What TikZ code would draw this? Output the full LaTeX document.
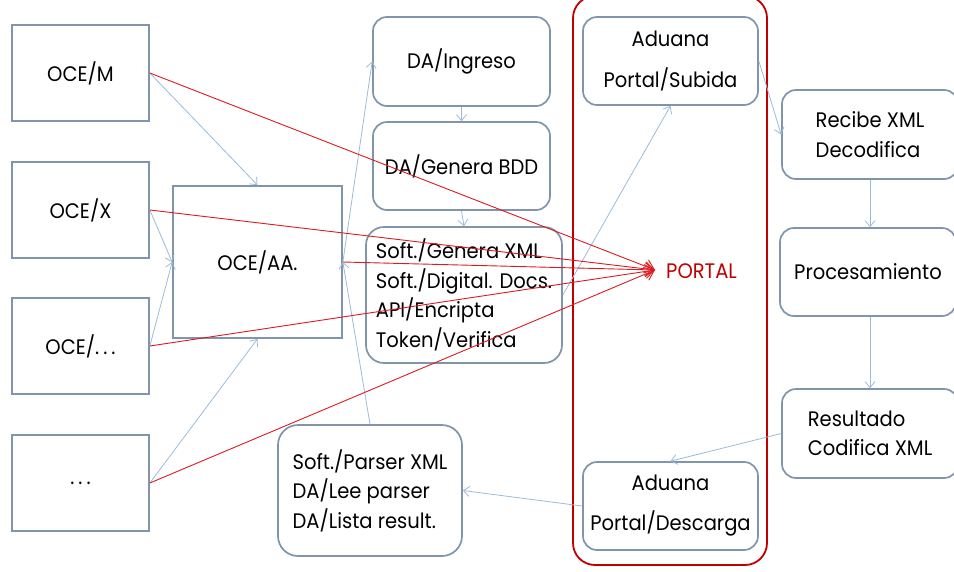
\documentclass[tikz,border=0pt]{standalone}
\usepackage{fontspec}
\setmainfont{Poppins}[FakeStretch=0.93]
\usetikzlibrary{arrows.meta}
\definecolor{boxc}{HTML}{8095AC}
\definecolor{linec}{HTML}{9DBBD8}
\definecolor{redl}{HTML}{DA1C22}
\definecolor{redc}{HTML}{C00000}
\newcommand\mydots{.\kern4pt.\kern4pt.}
\begin{document}
\begin{tikzpicture}[x=1pt,y=-1pt,
  every node/.style={font=\fontsize{21}{29.5}\selectfont, text=black, inner sep=0pt},
  sq/.style={draw=boxc, line width=1.7pt, fill=white},
  rb/.style={draw=boxc, line width=1.7pt, rounded corners=14pt, fill=white},
  barr/.style={draw=linec, line width=0.8pt, -{Straight Barb[length=6pt,width=10pt]}},
  rarr/.style={draw=redl, line width=0.9pt, -{Straight Barb[length=9pt,width=14pt]}}]
\useasboundingbox (0,0) rectangle (954,571);
% left square boxes
\node[sq, minimum width=137, minimum height=96] (ocem) at (80.5,73) {OCE/M};
\node[sq, minimum width=137, minimum height=96] (ocex) at (80.5,210) {OCE/X};
\node[sq, minimum width=137, minimum height=96] (oced) at (80.5,346) {OCE/\mydots};
\node[sq, minimum width=137, minimum height=96] (dots) at (80.5,483) {\mydots};
\node[sq, minimum width=169, minimum height=152] (aa) at (257.5,262) {OCE/AA.};
% middle column
\node[rb, minimum width=177, minimum height=89] (ing) at (461.5,61.5) {DA/Ingreso};
\node[rb, minimum width=177, minimum height=88] (bdd) at (461.5,166) {DA/Genera BDD};
\node[rb, minimum width=196, minimum height=136, rounded corners=18pt, align=left] (soft) at (464,295)
  {Soft./Genera XML\\Soft./Digital. Docs.\\API/Encripta\\Token/Verifica};
\node[rb, minimum width=184, minimum height=131, rounded corners=20pt, align=left] (parser) at (370,490.5)
  {Soft./Parser XML\\DA/Lee parser\\DA/Lista result.};
% portal container
\draw[redc, line width=1.8pt, rounded corners=22pt] (573,-4) rectangle (767,565);
\node[rb, minimum width=175, minimum height=88, align=center, font=\fontsize{21}{41}\selectfont] (sub) at (670.5,61)
  {Aduana\\Portal/Subida};
\node[rb, minimum width=175, minimum height=88, align=center, font=\fontsize{21}{40}\selectfont] (desc) at (670.5,506)
  {Aduana\\Portal/Descarga};
\coordinate (ptip) at (655,270);
\node[anchor=west, text=redc] (ptxt) at (666,271) {PORTAL};
% right column
\node[rb, minimum width=176, minimum height=89, align=left] (rec) at (870,134.5) {Recibe XML\\Decodifica};
\node[rb, minimum width=176, minimum height=88] (proc) at (868,272) {Procesamiento};
\node[rb, minimum width=176, minimum height=89, align=left] (res) at (870,433.5) {Resultado\\Codifica XML};
% blue connectors
\draw[barr] (ocem.east) -- (aa.north);
\draw[barr] (ocex.east) -- (aa.west);
\draw[barr] (oced.east) -- (aa.west);
\draw[barr] (dots.east) -- (aa.south);
\draw[barr] (aa.east) -- (ing.west);
\draw[barr] (parser.north) -- (aa.east);
\draw[barr] (ing.south) -- (bdd.north);
\draw[barr] (bdd.south) -- (soft.north);
\draw[barr] (soft.east) -- (sub.south);
\draw[barr] (sub.east) -- (rec.west);
\draw[barr] (rec.south) -- (rec.south |- proc.north);
\draw[barr] (proc.south -| rec.south) -- (res.north);
\draw[barr] (res.west) -- (desc.north);
\draw[barr] (desc.west) -- (parser.east);
% red connectors
\draw[rarr] (ocem.east) -- (ptip);
\draw[rarr] (ocex.east) -- (ptip);
\draw[rarr] (aa.east) -- (ptip);
\draw[rarr] (oced.east) -- (ptip);
\draw[rarr] (dots.east) -- (ptip);
\end{tikzpicture}
\end{document}
